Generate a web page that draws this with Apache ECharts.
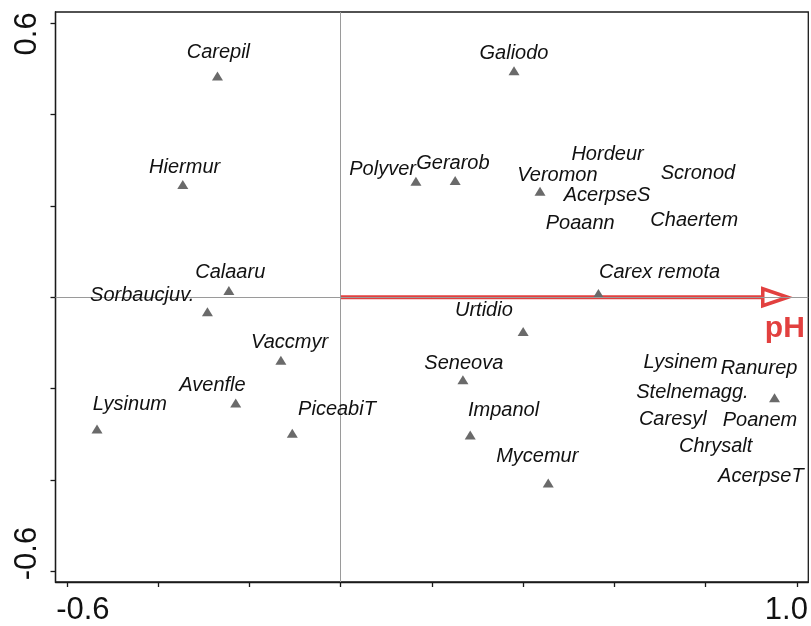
<!DOCTYPE html>
<html>
<head>
<meta charset="utf-8">
<script src="https://cdn.jsdelivr.net/npm/echarts@6/dist/echarts.min.js"></script>
<style>html,body{margin:0;padding:0;background:#fff}#c{width:811px;height:626px}</style>
</head>
<body>
<div id="c"></div>
<script>
// Species with visible triangle markers
var pointSpecies = ['Carepil','Hiermur','Calaaru','Sorbaucjuv.','Vaccmyr','Avenfle','Lysinum','PiceabiT','Galiodo','Polyver','Gerarob','Veromon','Carex remota','Urtidio','Seneova','Impanol','Mycemur','Ranurep'];
var pointX = [-0.270,-0.346,-0.245,-0.292,-0.131,-0.230,-0.534,-0.106,0.380,0.165,0.251,0.437,0.565,0.400,0.268,0.284,0.455,0.951];
var pointY = [0.485,0.247,0.015,-0.032,-0.138,-0.232,-0.289,-0.298,0.496,0.254,0.256,0.232,0.008,-0.075,-0.181,-0.302,-0.407,-0.220];

// Species label positions
var labelNames = ['Carepil','Hiermur','Calaaru','Sorbaucjuv.','Vaccmyr','Avenfle','Lysinum','PiceabiT','Galiodo','Polyver','Gerarob','Hordeur','Veromon','Scronod','AcerpseS','Poaann','Chaertem','Carex remota','Urtidio','Seneova','Impanol','Mycemur','Lysinem','Ranurep','Stelnemagg.','Caresyl','Poanem','Chrysalt','AcerpseT'];
var labelX = [-0.268,-0.342,-0.242,-0.435,-0.112,-0.281,-0.462,-0.008,0.380,0.092,0.246,0.585,0.475,0.783,0.584,0.525,0.775,0.699,0.314,0.270,0.357,0.431,0.745,0.917,0.771,0.728,0.919,0.822,0.921];
var labelY = [0.536,0.284,0.054,0.004,-0.099,-0.194,-0.234,-0.245,0.534,0.280,0.294,0.313,0.267,0.272,0.224,0.162,0.168,0.054,-0.028,-0.144,-0.249,-0.348,-0.142,-0.157,-0.209,-0.268,-0.269,-0.326,-0.393];

// Environmental variable arrow
var envName = 'pH';
var envStart = [0, 0];
var envEnd = [0.98, 0];
var envLabelPos = [0.9735, -0.070];

// Axis ticks and labels
var xTicks = [-0.6,-0.4,-0.2,0,0.2,0.4,0.6,0.8,1.0];
var xLabels = [-0.6, 1.0];
var yTicks = [-0.6,-0.4,-0.2,0,0.2,0.4,0.6];
var yLabels = [-0.6, 0.6];

var RED = '#e2403f';
var FONT = 'Liberation Sans, Arial, sans-serif';
var chart = echarts.init(document.getElementById('c'));

var pointData = pointX.map(function(x, i){ return [x, pointY[i], pointSpecies[i]]; });
var labelData = labelX.map(function(x, i){ return [x, labelY[i], labelNames[i]]; });

var option = {
  animation: false,
  backgroundColor: '#fff',
  grid: { left: 55.5, right: 2.7, top: 12, bottom: 43.3, show: true, borderColor: '#1a1a1a', borderWidth: 1.3, backgroundColor: 'transparent' },
  xAxis: {
    type: 'value', min: -0.625, max: 1.025,
    splitLine: { show: false },
    axisLine: { onZero: false, lineStyle: { color: '#1a1a1a', width: 1.3 } },
    axisTick: { show: true, inside: false, length: 5, customValues: xTicks, lineStyle: { color: '#1a1a1a', width: 1.3 } },
    axisLabel: {
      show: true, customValues: xLabels, margin: 13,
      fontFamily: FONT, fontSize: 31, color: '#111',
      formatter: function(v){ return v < 0 ? '{l|' + v.toFixed(1) + '}' : '{r|' + v.toFixed(1) + '}'; },
      rich: {
        l: { fontFamily: FONT, fontSize: 31, color: '#111', padding: [0,0,0,32] },
        r: { fontFamily: FONT, fontSize: 31, color: '#111', padding: [0,21,0,0] }
      }
    }
  },
  yAxis: {
    type: 'value', min: -0.624, max: 0.625,
    splitLine: { show: false },
    axisLine: { onZero: false, lineStyle: { color: '#1a1a1a', width: 1.3 } },
    axisTick: { show: true, inside: false, length: 5, customValues: yTicks, lineStyle: { color: '#1a1a1a', width: 1.3 } },
    axisLabel: {
      show: true, customValues: yLabels, rotate: 90, margin: 13,
      fontFamily: FONT, fontSize: 31, color: '#111',
      formatter: function(v){ return v < 0 ? '{l|' + v.toFixed(1) + '}' : '{r|' + v.toFixed(1) + '}'; },
      rich: {
        l: { fontFamily: FONT, fontSize: 31, color: '#111', padding: [0,0,0,35] },
        r: { fontFamily: FONT, fontSize: 31, color: '#111', padding: [0,21,0,0] }
      }
    }
  },
  series: [
    {
      type: 'scatter', name: 'zero', data: [], z: 1, silent: true,
      markLine: {
        silent: true, symbol: 'none', label: { show: false },
        lineStyle: { color: '#9a9a9a', width: 1, type: 'solid', opacity: 1 },
        data: [ { xAxis: 0 }, { yAxis: 0 } ]
      }
    },
    {
      type: 'custom', name: envName, z: 3, silent: true,
      data: [[envStart[0], envStart[1], envEnd[0], envEnd[1]]],
      renderItem: function(params, api){
        var p0 = api.coord([api.value(0), api.value(1)]);
        var p1 = api.coord([api.value(2), api.value(3)]);
        var dx = p1[0]-p0[0], dy = p1[1]-p0[1];
        var len = Math.sqrt(dx*dx+dy*dy); var ux = dx/len, uy = dy/len;
        var headL = 25, headW = 8.5;
        var b = [p1[0]-ux*headL, p1[1]-uy*headL];
        return {
          type: 'group',
          children: [
            { type: 'line', shape: { x1: p0[0], y1: p0[1], x2: b[0], y2: b[1] }, style: { stroke: RED, lineWidth: 4 } },
            { type: 'polygon', shape: { points: [[p1[0], p1[1]], [b[0]-uy*headW, b[1]+ux*headW], [b[0]+uy*headW, b[1]-ux*headW]] },
              style: { fill: '#fff', stroke: RED, lineWidth: 3.5, lineJoin: 'miter' } }
          ]
        };
      }
    },
    {
      type: 'scatter', name: 'species', z: 4, silent: true,
      data: pointData, symbol: 'triangle', symbolSize: [11, 9],
      itemStyle: { color: '#6a6a6a', opacity: 1 }
    },
    {
      type: 'scatter', name: 'labels', z: 5, silent: true,
      data: labelData, symbolSize: 0, itemStyle: { color: '#000', opacity: 1 },
      label: {
        show: true, position: 'inside',
        formatter: function(p){ return p.data[2]; },
        fontFamily: FONT, fontStyle: 'italic', fontSize: 20, color: '#111'
      }
    },
    {
      type: 'scatter', name: 'envLabel', z: 5, silent: true,
      data: [[envLabelPos[0], envLabelPos[1], envName]], symbolSize: 0, itemStyle: { color: RED, opacity: 1 },
      label: {
        show: true, position: 'inside',
        formatter: function(p){ return p.data[2]; },
        fontFamily: FONT, fontWeight: 'bold', fontSize: 30, color: RED
      }
    }
  ]
};
chart.setOption(option);
</script>
</body>
</html>
